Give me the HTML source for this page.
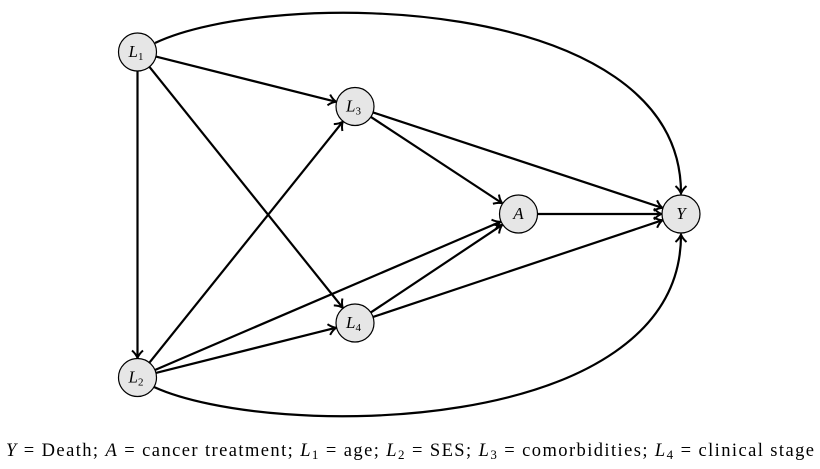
<!DOCTYPE html>
<html><head><meta charset="utf-8"><style>
html,body{margin:0;padding:0;background:#fff;}
svg{display:block;}
.n{fill:#e6e6e6;stroke:#000;stroke-width:1.2;}
.e{fill:none;stroke:#000;stroke-width:2.2;}
.t{font-family:"Liberation Serif",serif;font-style:italic;font-size:17px;}
.s{font-family:"Liberation Serif",serif;font-size:11px;font-style:normal;}
</style></head><body>
<svg id="g" width="820" height="469" viewBox="0 0 820 469" xmlns="http://www.w3.org/2000/svg">
<defs>
<marker id="ar" markerWidth="14" markerHeight="14" refX="10" refY="7" orient="auto" markerUnits="userSpaceOnUse">
<path d="M3,1.5 Q6.5,5.5 10.5,7 Q6.5,8.5 3,12.5" fill="none" stroke="#000" stroke-width="2"/>
</marker>
</defs>
<g id="edges"></g>
<path class="e" d="M155,43 C270,-12 681,-8 681,193" marker-end="url(#ar)"/>
<path class="e" d="M154,387 C270,440 681,438 681,235" marker-end="url(#ar)"/>
<g id="nodes"></g>
<text x="6" y="456" font-family="Liberation Serif, serif" font-size="18.5" textLength="808" lengthAdjust="spacing"><tspan font-style="italic">Y</tspan> = Death; <tspan font-style="italic">A</tspan> = cancer treatment; <tspan font-style="italic">L</tspan><tspan font-size="13" dy="3">1</tspan><tspan dy="-3"> = age; </tspan><tspan font-style="italic">L</tspan><tspan font-size="13" dy="3">2</tspan><tspan dy="-3"> = SES; </tspan><tspan font-style="italic">L</tspan><tspan font-size="13" dy="3">3</tspan><tspan dy="-3"> = comorbidities; </tspan><tspan font-style="italic">L</tspan><tspan font-size="13" dy="3">4</tspan><tspan dy="-3"> = clinical stage</tspan></text>
</svg>
<script>
var N={L1:[137.5,52,'L','1'],L3:[355,106.5,'L','3'],A:[518.5,214,'A',''],Y:[681,214,'Y',''],L4:[355,323,'L','4'],L2:[137.5,377.5,'L','2']};
var R=19,NS="http://www.w3.org/2000/svg";
var E=[['L1','L3'],['L1','L2'],['L1','L4'],['L3','A'],['L3','Y'],['A','Y'],['L2','L3'],['L2','A'],['L2','L4'],['L4','A'],['L4','Y']];
var eg=document.getElementById('edges'),ng=document.getElementById('nodes');
E.forEach(function(e){var a=N[e[0]],b=N[e[1]];var dx=b[0]-a[0],dy=b[1]-a[1],d=Math.sqrt(dx*dx+dy*dy);
var ux=dx/d,uy=dy/d;var l=document.createElementNS(NS,'line');
l.setAttribute('x1',a[0]+ux*R);l.setAttribute('y1',a[1]+uy*R);
l.setAttribute('x2',b[0]-ux*(R+1));l.setAttribute('y2',b[1]-uy*(R+1));
l.setAttribute('class','e');l.setAttribute('marker-end','url(#ar)');eg.appendChild(l);});
for(var k in N){var p=N[k];var c=document.createElementNS(NS,'circle');c.setAttribute('cx',p[0]);c.setAttribute('cy',p[1]);c.setAttribute('r',R);c.setAttribute('class','n');ng.appendChild(c);
var t=document.createElementNS(NS,'text');t.setAttribute('class','t');t.setAttribute('y',p[1]+5);
if(p[3]){t.setAttribute('x',p[0]-9);t.textContent=p[2];var s=document.createElementNS(NS,'tspan');s.setAttribute('class','s');s.setAttribute('dy','3');s.textContent=p[3];t.appendChild(s);}
else{t.setAttribute('x',p[0]);t.setAttribute('text-anchor','middle');t.setAttribute('font-size','19');t.textContent=p[2];}
ng.appendChild(t);}
</script>
</body></html>
